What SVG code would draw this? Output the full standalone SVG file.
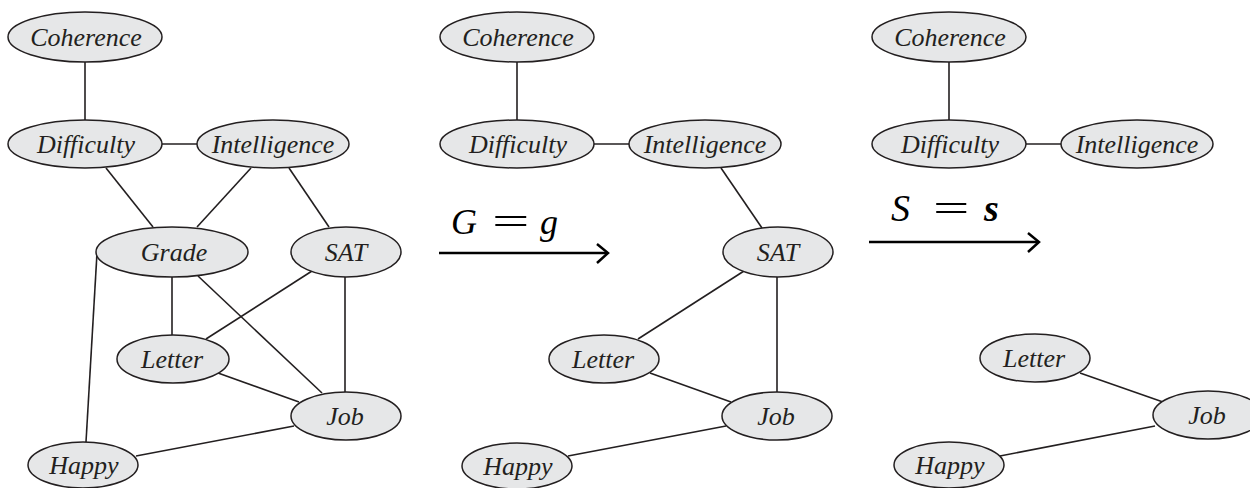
<svg xmlns="http://www.w3.org/2000/svg" width="1250" height="488" viewBox="0 0 1250 488">
<style>
.n ellipse{fill:#e6e7e8;stroke:#231f20;stroke-width:1.5}
.e line{stroke:#231f20;stroke-width:1.6}
.arr{stroke:#000;stroke-width:2.5;fill:none}
</style>
<rect width="1250" height="488" fill="#fff"/>
<g id="connectors" class="e">
<line x1="85" y1="61" x2="85" y2="120"/>
<line x1="162" y1="144" x2="197" y2="144"/>
<line x1="106" y1="168" x2="153" y2="227"/>
<line x1="251" y1="168" x2="197" y2="227"/>
<line x1="289" y1="168" x2="329" y2="227"/>
<line x1="172" y1="277" x2="172" y2="335"/>
<line x1="198" y1="276" x2="322" y2="393"/>
<line x1="312" y1="271" x2="206" y2="339"/>
<line x1="345" y1="277" x2="345" y2="392"/>
<line x1="218" y1="373" x2="299" y2="402"/>
<line x1="294" y1="426" x2="136" y2="456"/>
<line x1="97" y1="253" x2="86" y2="442"/>
<line x1="517" y1="61" x2="517" y2="120"/>
<line x1="594" y1="144" x2="629" y2="144"/>
<line x1="721" y1="168" x2="762" y2="228"/>
<line x1="744" y1="271" x2="638" y2="339"/>
<line x1="777" y1="277" x2="777" y2="392"/>
<line x1="650" y1="373" x2="731" y2="402"/>
<line x1="726" y1="426" x2="568" y2="456"/>
<line x1="949" y1="61" x2="949" y2="120"/>
<line x1="1026" y1="144" x2="1061" y2="144"/>
<line x1="1080" y1="373" x2="1163" y2="402"/>
<line x1="1155" y1="426" x2="1000" y2="456"/>
</g>
<g id="p1-coherence" class="n"><ellipse cx="85" cy="37" rx="77" ry="25"/><text x="86" y="46" font-family="Liberation Serif" font-style="italic" font-size="26" fill="#231f20" text-anchor="middle">Coherence</text></g>
<g id="p1-difficulty" class="n"><ellipse cx="85" cy="144" rx="77" ry="24"/><text x="86" y="153" font-family="Liberation Serif" font-style="italic" font-size="26" fill="#231f20" text-anchor="middle">Difficulty</text></g>
<g id="p1-intelligence" class="n"><ellipse cx="273" cy="144" rx="76" ry="24"/><text x="273" y="153" font-family="Liberation Serif" font-style="italic" font-size="26" fill="#231f20" text-anchor="middle">Intelligence</text></g>
<g id="p1-grade" class="n"><ellipse cx="172" cy="252" rx="76" ry="25"/><text x="174" y="261" font-family="Liberation Serif" font-style="italic" font-size="26" fill="#231f20" text-anchor="middle">Grade</text></g>
<g id="p1-sat" class="n"><ellipse cx="346" cy="252" rx="55" ry="25"/><text x="346" y="261" font-family="Liberation Serif" font-style="italic" font-size="26" fill="#231f20" text-anchor="middle">SAT</text></g>
<g id="p1-letter" class="n"><ellipse cx="173" cy="359" rx="56" ry="24"/><text x="172" y="368" font-family="Liberation Serif" font-style="italic" font-size="26" fill="#231f20" text-anchor="middle">Letter</text></g>
<g id="p1-job" class="n"><ellipse cx="346" cy="416" rx="55" ry="24"/><text x="345" y="425" font-family="Liberation Serif" font-style="italic" font-size="26" fill="#231f20" text-anchor="middle">Job</text></g>
<g id="p1-happy" class="n"><ellipse cx="83" cy="465" rx="55" ry="23"/><text x="84" y="474" font-family="Liberation Serif" font-style="italic" font-size="26" fill="#231f20" text-anchor="middle">Happy</text></g>

<g id="p2-coherence" class="n"><ellipse cx="517" cy="37" rx="77" ry="25"/><text x="518" y="46" font-family="Liberation Serif" font-style="italic" font-size="26" fill="#231f20" text-anchor="middle">Coherence</text></g>
<g id="p2-difficulty" class="n"><ellipse cx="517" cy="144" rx="77" ry="24"/><text x="518" y="153" font-family="Liberation Serif" font-style="italic" font-size="26" fill="#231f20" text-anchor="middle">Difficulty</text></g>
<g id="p2-intelligence" class="n"><ellipse cx="705" cy="144" rx="76" ry="24"/><text x="705" y="153" font-family="Liberation Serif" font-style="italic" font-size="26" fill="#231f20" text-anchor="middle">Intelligence</text></g>
<g id="p2-sat" class="n"><ellipse cx="778" cy="252" rx="55" ry="25"/><text x="778" y="261" font-family="Liberation Serif" font-style="italic" font-size="26" fill="#231f20" text-anchor="middle">SAT</text></g>
<g id="p2-letter" class="n"><ellipse cx="604" cy="359" rx="55" ry="24"/><text x="603" y="368" font-family="Liberation Serif" font-style="italic" font-size="26" fill="#231f20" text-anchor="middle">Letter</text></g>
<g id="p2-job" class="n"><ellipse cx="777" cy="416" rx="55" ry="24"/><text x="776" y="425" font-family="Liberation Serif" font-style="italic" font-size="26" fill="#231f20" text-anchor="middle">Job</text></g>
<g id="p2-happy" class="n"><ellipse cx="517" cy="466" rx="55" ry="23"/><text x="518" y="475" font-family="Liberation Serif" font-style="italic" font-size="26" fill="#231f20" text-anchor="middle">Happy</text></g>

<g id="p3-coherence" class="n"><ellipse cx="949" cy="37" rx="77" ry="25"/><text x="950" y="46" font-family="Liberation Serif" font-style="italic" font-size="26" fill="#231f20" text-anchor="middle">Coherence</text></g>
<g id="p3-difficulty" class="n"><ellipse cx="949" cy="144" rx="77" ry="24"/><text x="950" y="153" font-family="Liberation Serif" font-style="italic" font-size="26" fill="#231f20" text-anchor="middle">Difficulty</text></g>
<g id="p3-intelligence" class="n"><ellipse cx="1137" cy="144" rx="76" ry="24"/><text x="1137" y="153" font-family="Liberation Serif" font-style="italic" font-size="26" fill="#231f20" text-anchor="middle">Intelligence</text></g>
<g id="p3-letter" class="n"><ellipse cx="1035" cy="358" rx="55" ry="24"/><text x="1034" y="367" font-family="Liberation Serif" font-style="italic" font-size="26" fill="#231f20" text-anchor="middle">Letter</text></g>
<g id="p3-job" class="n"><ellipse cx="1208" cy="415" rx="55" ry="24"/><text x="1207" y="424" font-family="Liberation Serif" font-style="italic" font-size="26" fill="#231f20" text-anchor="middle">Job</text></g>
<g id="p3-happy" class="n"><ellipse cx="949" cy="465" rx="55" ry="23"/><text x="950" y="474" font-family="Liberation Serif" font-style="italic" font-size="26" fill="#231f20" text-anchor="middle">Happy</text></g>

<g id="transition-1">
<text x="451" y="234" font-family="Liberation Serif" font-size="36" fill="#000"><tspan font-style="italic">G</tspan><tspan x="540" font-style="italic">g</tspan></text>
<text transform="translate(492,234) scale(1.75,1)" font-family="Liberation Serif" font-size="38" fill="#000">=</text>
<line class="arr" x1="439" y1="253" x2="607" y2="253"/>
<polyline class="arr" points="597,244 608,253 597,263"/>
</g>
<g id="transition-2">
<text x="891" y="221" font-family="Liberation Serif" font-size="38" fill="#000"><tspan font-style="italic">S</tspan><tspan x="984" font-style="italic" font-weight="bold">s</tspan></text>
<text transform="translate(933,221) scale(1.7,1)" font-family="Liberation Serif" font-size="38" fill="#000">=</text>
<line class="arr" x1="869" y1="242" x2="1038" y2="242"/>
<polyline class="arr" points="1028,233 1039,242 1028,252"/>
</g>
</svg>
